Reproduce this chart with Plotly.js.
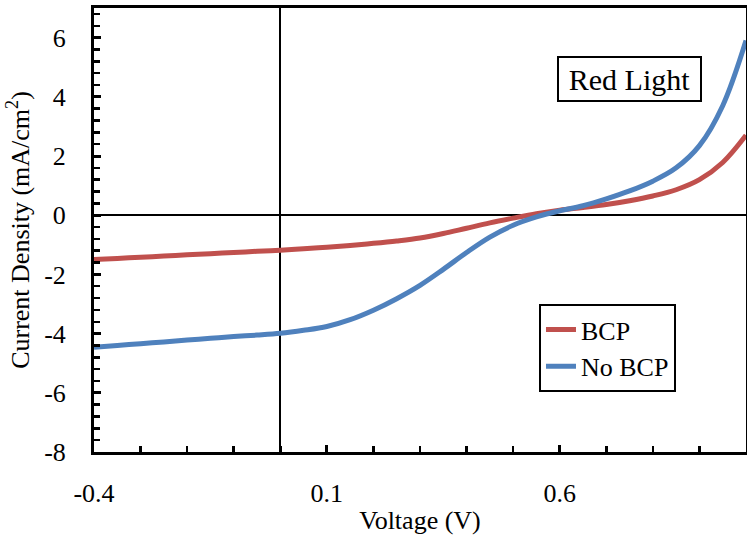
<!DOCTYPE html>
<html>
<head>
<meta charset="utf-8">
<script src="https://cdn.plot.ly/plotly-3.0.1.min.js"></script>
<style>html,body{margin:0;padding:0;background:#fff;}#chart{width:747px;height:537px;}</style>
</head>
<body>
<div id="chart"></div>
<script>
// Data
var voltage = [-0.4, -0.35, -0.3, -0.25, -0.2, -0.15, -0.1, -0.05, 0, 0.05, 0.1, 0.15, 0.2, 0.25, 0.3, 0.35, 0.4, 0.45, 0.5, 0.55, 0.6, 0.65, 0.7, 0.75, 0.8, 0.85, 0.9, 0.95, 1.0];
var bcp = [-1.50, -1.46, -1.42, -1.38, -1.34, -1.30, -1.26, -1.22, -1.18, -1.13, -1.08, -1.02, -0.95, -0.87, -0.77, -0.62, -0.44, -0.26, -0.10, 0.05, 0.17, 0.26, 0.36, 0.49, 0.65, 0.86, 1.20, 1.78, 2.70];
var noBcp = [-4.46, -4.40, -4.34, -4.28, -4.22, -4.16, -4.10, -4.05, -3.99, -3.89, -3.76, -3.53, -3.21, -2.82, -2.37, -1.83, -1.26, -0.74, -0.34, -0.06, 0.15, 0.32, 0.55, 0.82, 1.15, 1.60, 2.35, 3.70, 5.90];
var seriesNames = ['BCP', 'No BCP'];
var xTickVals = [-0.4, 0.1, 0.6];
var xTickText = ['-0.4', '0.1', '0.6'];
var yTickVals = [-8, -6, -4, -2, 0, 2, 4, 6];
var yTickText = ['-8', '-6', '-4', '-2', '0', '2', '4', '6'];

var FONT = 'Liberation Serif, Times New Roman, serif';

var traces = [
  {x: voltage, y: bcp, name: seriesNames[0], mode: 'lines', type: 'scatter',
   line: {color: '#C0504D', width: 5, shape: 'spline', smoothing: 1}},
  {x: voltage, y: noBcp, name: seriesNames[1], mode: 'lines', type: 'scatter',
   line: {color: '#4F81BD', width: 5, shape: 'spline', smoothing: 1}}
];

var layout = {
  width: 747, height: 537,
  margin: {l: 94, r: 1, t: 8, b: 85},
  paper_bgcolor: '#fff', plot_bgcolor: '#fff',
  font: {family: FONT, size: 26, color: '#000'},
  showlegend: true,
  legend: {
    x: 0.6825, y: 0.333, xanchor: 'left', yanchor: 'top',
    bgcolor: '#fff', bordercolor: '#000', borderwidth: 2,
    font: {family: FONT, size: 26, color: '#000'}
  },
  xaxis: {
    range: [-0.4, 1.0],
    tickmode: 'array', tickvals: xTickVals, ticktext: xTickText,
    ticks: 'inside', ticklen: 7, tickwidth: 3, tickcolor: '#000',
    minor: {tickmode: 'linear', tick0: -0.4, dtick: 0.1, ticks: 'inside', ticklen: 6, tickwidth: 2.5, tickcolor: '#000'},
    showline: true, linecolor: '#000', linewidth: 3, mirror: true,
    showgrid: false,
    zeroline: true, zerolinecolor: '#000', zerolinewidth: 2,
    ticklabelstandoff: 16,
    tickfont: {family: FONT, size: 26, color: '#000'},
    title: {text: 'Voltage (V)', font: {family: FONT, size: 26, color: '#000'}, standoff: 4}
  },
  yaxis: {
    range: [-8, 7],
    tickmode: 'array', tickvals: yTickVals, ticktext: yTickText,
    ticks: 'inside', ticklen: 7, tickwidth: 3, tickcolor: '#000',
    minor: {tickmode: 'linear', tick0: -8, dtick: 0.4, ticks: 'inside', ticklen: 6, tickwidth: 2.5, tickcolor: '#000'},
    showline: true, linecolor: '#000', linewidth: 3, mirror: true,
    showgrid: false,
    zeroline: true, zerolinecolor: '#000', zerolinewidth: 2,
    ticklabelstandoff: 20,
    tickfont: {family: FONT, size: 26, color: '#000'},
    title: {text: 'Current Density (mA/cm<sup>2</sup>)', font: {family: FONT, size: 26, color: '#000'}, standoff: 8}
  },
  annotations: [{
    xref: 'paper', yref: 'paper', x: 0.8213, y: 0.840,
    xanchor: 'center', yanchor: 'middle',
    text: 'Red Light', showarrow: false,
    font: {family: FONT, size: 30, color: '#000'},
    bgcolor: '#fff', bordercolor: '#000', borderwidth: 2, borderpad: 2,
    width: 137, height: 38
  }]
};

Plotly.newPlot('chart', traces, layout, {displayModeBar: false, staticPlot: true});
</script>
</body>
</html>
